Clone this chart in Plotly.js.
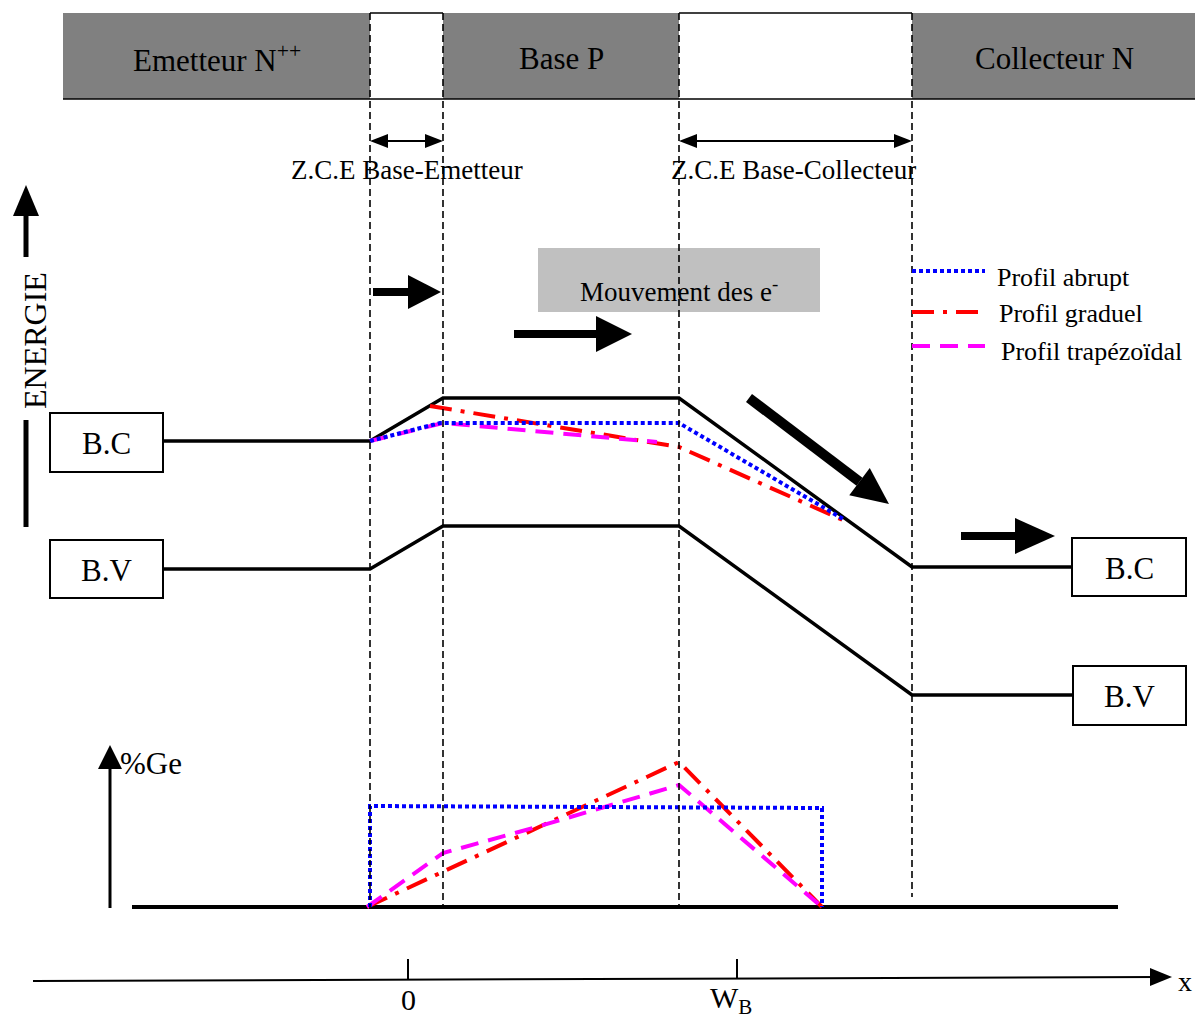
<!DOCTYPE html>
<html><head><meta charset="utf-8">
<script src="https://cdn.plot.ly/plotly-3.0.1.min.js"></script>
<style>html,body{margin:0;padding:0;background:#fff}</style>
</head><body><div id="chart" style="width:1195px;height:1016px"></div>
<script>
// ---- Diagram data (diagram units = picture pixels, y grows downward) ----
const regionNames = ["Emetteur N<sup>++</sup>", "Base P", "Collecteur N"];
const regionCenters = [217, 561, 1054];
const zceEdges = [370, 443, 679, 912];
const zceLabels = ["Z.C.E Base-Emetteur", "Z.C.E Base-Collecteur"];

// Energy bands
const bcX = [163, 370, 443, 679, 912, 1072];
const bcY = [441, 441, 398, 398, 567, 567];
const bvX = [163, 370, 443, 679, 912, 1073];
const bvY = [569, 569, 526, 526, 695, 695];

// Conduction band profiles
const abruptEX = [370, 440, 679, 845];
const abruptEY = [441, 423, 423, 520];
const graduelEX = [430, 679, 845];
const graduelEY = [406, 447, 521];
const trapEX = [370, 443, 657];
const trapEY = [441, 423, 442];

// %Ge profiles
const geBaseX = [132, 1118];
const geBaseY = [907, 907];
const abruptGeX = [370, 370, 822, 822];
const abruptGeY = [907, 806, 808, 907];
const graduelGeX = [367, 679, 822];
const graduelGeY = [907, 762, 907];
const trapGeX = [367, 443, 540, 679, 822];
const trapGeY = [907, 853, 826, 785, 907];

const legendNames = ["Profil abrupt", "Profil graduel", "Profil trapézoïdal"];
const tickLabels = ["0", "W<sub>B</sub>"];
const tickPos = [408, 737];

const FONT = "Liberation Serif, Times New Roman, serif";
const BLUE = "#0000ff", RED = "#ff0000", MAG = "#ff00ff";
const dotB = "4px,3px", dashR = "22px,9px,4px,9px", dashM = "18px,10px";

function line(x, y, color, width, dash) {
  return {x: x, y: y, type: "scatter", mode: "lines", hoverinfo: "skip", showlegend: false,
          line: {color: color, width: width, dash: dash || "solid", shape: "linear"}};
}

const traces = [
  line(bcX, bcY, "#000", 3.5),
  line(bvX, bvY, "#000", 3.5),
  line(geBaseX, geBaseY, "#000", 4),
  line(graduelEX, graduelEY, RED, 4, dashR),
  line(trapEX, trapEY, MAG, 4, dashM),
  line(abruptEX, abruptEY, BLUE, 4, dotB),
  line(graduelGeX, graduelGeY, RED, 4, dashR),
  line(trapGeX, trapGeY, MAG, 4, dashM),
  line(abruptGeX, abruptGeY, BLUE, 4, dotB),
];

const shapes = [];
const annotations = [];
function rect(x0, y0, x1, y1, fill, lc, lw) {
  shapes.push({type: "rect", xref: "x", yref: "y", x0: x0, y0: y0, x1: x1, y1: y1,
    fillcolor: fill, line: {color: lc || fill, width: lw || 0}, layer: "below"});
}
function seg(x0, y0, x1, y1, color, width, dash) {
  shapes.push({type: "line", xref: "x", yref: "y", x0: x0, y0: y0, x1: x1, y1: y1,
    line: {color: color, width: width, dash: dash || "solid"}});
}
function poly(pts, fill) {
  shapes.push({type: "path", xref: "x", yref: "y",
    path: "M" + pts.map(p => p[0] + "," + p[1]).join(" L") + " Z",
    fillcolor: fill, line: {color: fill, width: 0}});
}
function text(t, x, y, size, opts) {
  annotations.push(Object.assign({text: t, x: x, y: y, xref: "x", yref: "y", showarrow: false,
    xanchor: "center", yanchor: "middle", font: {family: FONT, size: size, color: "#000"}}, opts || {}));
}
// thick arrow: shaft + triangle head
function arrow(x0, y0, x1, y1, shaftW, headL, headHW) {
  const dx = x1 - x0, dy = y1 - y0, L = Math.hypot(dx, dy), ux = dx / L, uy = dy / L;
  const px = -uy, py = ux, bx = x1 - ux * headL, by = y1 - uy * headL;
  const h = shaftW / 2;
  poly([[x0 + px * h, y0 + py * h], [bx + px * h, by + py * h], [bx - px * h, by - py * h], [x0 - px * h, y0 - py * h]], "#000");
  poly([[bx + px * headHW, by + py * headHW], [x1, y1], [bx - px * headHW, by - py * headHW]], "#000");
}

// top band
rect(63, 13, 1195, 99, "#808080");
rect(zceEdges[0], 13, zceEdges[1], 99, "#ffffff");
rect(zceEdges[2], 13, zceEdges[3], 99, "#ffffff");
seg(63, 99, 1195, 99, "#000", 1.5);
seg(zceEdges[0], 13, zceEdges[1], 13, "#000", 1.5);
seg(zceEdges[2], 13, zceEdges[3], 13, "#000", 1.5);
regionNames.forEach((n, i) => text(n, regionCenters[i], 58, 31));

// dashed verticals
seg(370, 13, 370, 908, "#000", 1.6, "7px,4px");
seg(443, 13, 443, 908, "#000", 1.6, "7px,4px");
seg(679, 13, 679, 908, "#000", 1.6, "7px,4px");
seg(912, 13, 912, 897, "#000", 1.6, "7px,4px");

// ZCE double arrows
function dbl(x0, x1, y) {
  seg(x0 + 10, y, x1 - 10, y, "#000", 2);
  poly([[x0, y], [x0 + 18, y - 7], [x0 + 18, y + 7]], "#000");
  poly([[x1, y], [x1 - 18, y - 7], [x1 - 18, y + 7]], "#000");
}
dbl(370, 443, 141);
dbl(679, 912, 141);
text(zceLabels[0], 407, 170, 27);
text(zceLabels[1], 793, 170, 27);

// ENERGIE arrow
seg(26, 210, 26, 257, "#000", 5);
poly([[26, 185], [13, 216], [39, 216]], "#000");
seg(26, 420, 26, 527, "#000", 5);
text("ENERGIE", 35, 341, 32, {textangle: -90});

// Mouvement box
rect(538, 248, 820, 312, "#c0c0c0");
text("Mouvement des e<sup>-</sup>", 679, 290, 27);

// thick arrows
arrow(373, 292, 441, 292, 8, 33, 17);
arrow(514, 334, 632, 334, 8, 36, 18);
arrow(749, 398, 889, 504, 10, 37, 17);
arrow(961, 536, 1055, 536, 8, 40, 18);

// legend
seg(912, 271, 985, 271, BLUE, 4, dotB);
seg(912, 312, 985, 312, RED, 4, "22px,9px,4px,9px");
seg(912, 346, 985, 346, MAG, 4, "18px,10px");
text(legendNames[0], 995, 277, 26, {xanchor: "left"});
text(legendNames[1], 997, 313, 26, {xanchor: "left"});
text(legendNames[2], 999, 351, 26, {xanchor: "left"});

// band boxes
function box(x0, y0, x1, y1, t) {
  shapes.push({type: "rect", xref: "x", yref: "y", x0: x0, y0: y0, x1: x1, y1: y1,
    fillcolor: "#fff", line: {color: "#000", width: 2}});
  text(t, (x0 + x1) / 2, (y0 + y1) / 2 + 1, 31);
}
box(50, 413, 163, 472, "B.C");
box(50, 540, 163, 598, "B.V");
box(1072, 538, 1186, 596, "B.C");
box(1073, 666, 1186, 725, "B.V");

// %Ge arrow
seg(110, 908, 110, 765, "#000", 3);
poly([[110, 745], [98, 769], [122, 769]], "#000");
text("%Ge", 151, 763, 31);

// x axis
seg(33, 981, 1160, 977, "#000", 2);
poly([[1172, 977], [1150, 968], [1150, 986]], "#000");
tickPos.forEach((p, i) => { seg(p, 959, p, 979, "#000", 2); });
text(tickLabels[0], tickPos[0], 999, 30);
text(tickLabels[1], 731, 1000, 30);
text("x", 1185, 981, 28);

const layout = {
  width: 1195, height: 1016, margin: {l: 0, r: 0, t: 0, b: 0},
  paper_bgcolor: "#fff", plot_bgcolor: "#fff",
  xaxis: {range: [0, 1195], visible: false, fixedrange: true},
  yaxis: {range: [1016, 0], visible: false, fixedrange: true},
  shapes: shapes, annotations: annotations, showlegend: false
};
Plotly.newPlot("chart", traces, layout, {staticPlot: true, displayModeBar: false});
</script></body></html>
